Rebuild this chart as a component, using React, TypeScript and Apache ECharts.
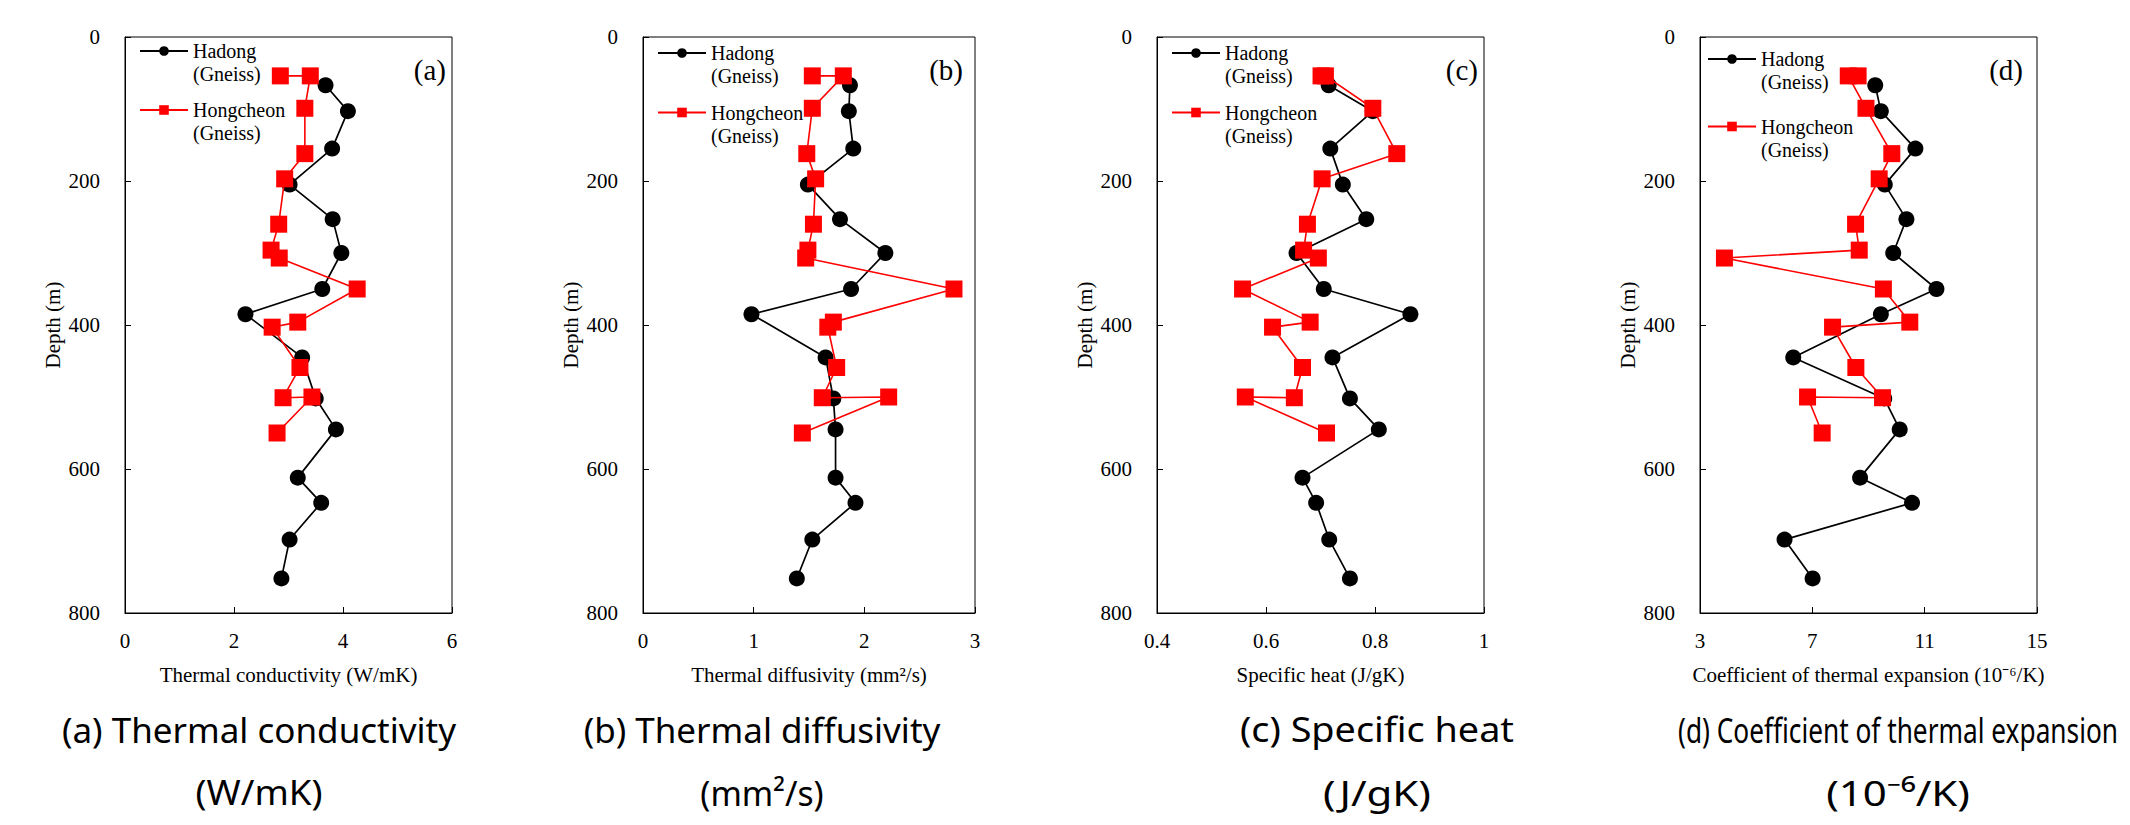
import React, { useEffect, useRef } from 'react';
import * as echarts from 'echarts';

// ---------- data ----------
const depthHadong = [67, 103, 155, 205, 253, 300, 350, 385, 445, 502, 545, 612, 647, 698, 752];
const depthHongcheon = [54, 54, 99, 162, 197, 260, 296, 307, 350, 396, 403, 459, 501, 500, 550];

const conductivityHadong = [3.68, 4.09, 3.8, 3.02, 3.81, 3.97, 3.62, 2.21, 3.25, 3.5, 3.87, 3.17, 3.6, 3.02, 2.87];
const conductivityHongcheon = [2.85, 3.4, 3.3, 3.3, 2.93, 2.82, 2.68, 2.83, 4.26, 3.17, 2.7, 3.21, 2.9, 3.43, 2.79];

const diffusivityHadong = [1.87, 1.86, 1.9, 1.49, 1.78, 2.19, 1.88, 0.98, 1.65, 1.72, 1.74, 1.74, 1.92, 1.53, 1.39];
const diffusivityHongcheon = [1.53, 1.81, 1.53, 1.48, 1.56, 1.54, 1.49, 1.47, 2.81, 1.72, 1.67, 1.75, 1.62, 2.22, 1.44];

const specificHeatHadong = [0.715, 0.796, 0.718, 0.741, 0.784, 0.656, 0.706, 0.865, 0.722, 0.754, 0.807, 0.667, 0.692, 0.716, 0.754];
const specificHeatHongcheon = [0.701, 0.709, 0.796, 0.84, 0.703, 0.676, 0.669, 0.696, 0.557, 0.681, 0.612, 0.667, 0.652, 0.562, 0.711];

const expansionHadong = [9.24, 9.44, 10.67, 9.58, 10.35, 9.88, 11.42, 9.44, 6.32, 9.56, 10.11, 8.7, 10.55, 6.01, 7.01];
const expansionHongcheon = [8.63, 8.28, 8.91, 9.83, 9.38, 8.54, 8.67, 3.87, 9.53, 10.47, 7.72, 8.55, 9.5, 6.83, 7.35];

const seriesNames = ['Hadong (Gneiss)', 'Hongcheon (Gneiss)'];
const hadongValues = [conductivityHadong, diffusivityHadong, specificHeatHadong, expansionHadong];
const hongcheonValues = [conductivityHongcheon, diffusivityHongcheon, specificHeatHongcheon, expansionHongcheon];

const xMins = [0, 0, 0.4, 3];
const xMaxs = [6, 3, 1, 15];
const xIntervals = [2, 1, 0.2, 4];
const depthMin = 0;
const depthMax = 800;
const depthInterval = 200;

const panelLetters = ['(a)', '(b)', '(c)', '(d)'];
const xAxisTitles = [
  'Thermal conductivity (W/mK)',
  'Thermal diffusivity (mm²/s)',
  'Specific heat (J/gK)',
  'Coefficient of thermal expansion (10⁻⁶/K)',
];
const yAxisTitle = 'Depth (m)';
const captionLine1 = [
  '(a) Thermal conductivity',
  '(b) Thermal diffusivity',
  '(c) Specific heat',
  '(d) Coefficient of thermal expansion',
];
const captionLine2 = ['(W/mK)', '(mm²/s)', '(J/gK)', '(10⁻⁶/K)'];

// ---------- layout ----------
const gridLeft = [125, 643, 1157, 1700];
const gridWidth = [327, 332, 327, 337];
const gridTop = 37;
const gridHeight = 576;
const legendLeft = [139, 657, 1171, 1707];
const legendIconY = [
  [51, 110],
  [53, 112.5],
  [53, 112.5],
  [59, 126.5],
];
const legendIconOffset = 34.5;
const letterRightGap = [6, 12, 6, 14];
const captionCenter = [259, 762, 1377, 1898];
const captionScaleX1 = [1, 1, 1.08, 0.75];
const captionScaleX2 = [1.05, 0.96, 1.2, 1.2];
const captionY1 = 729;
const captionY2 = 792;

const SERIF = '"Liberation Serif", "Times New Roman", serif';
const SANS = '"Noto Sans", "Open Sans", sans-serif';

function zip(xs: number[], ys: number[]) {
  return xs.map((x, i) => [x, ys[i]]);
}

function captionText(text: string, x: number, y: number, scaleX: number) {
  return {
    type: 'text',
    x,
    y,
    scaleX,
    style: {
      text,
      font: `35px ${SANS}`,
      fill: '#000',
      x: 0,
      y: 0,
      align: 'center',
      verticalAlign: 'middle',
      textAlign: 'center',
      textVerticalAlign: 'middle',
    },
  };
}

export default function App() {
  const ref = useRef<HTMLDivElement>(null);

  useEffect(() => {
    if (!ref.current) return;
    const chart = echarts.init(ref.current, undefined, { renderer: 'svg' });

    const grids: any[] = [];
    const xAxes: any[] = [];
    const yAxes: any[] = [];
    const series: any[] = [];
    const legends: any[] = [];
    const graphics: any[] = [];

    for (let i = 0; i < 4; i++) {
      grids.push({
        left: gridLeft[i],
        top: gridTop,
        width: gridWidth[i],
        height: gridHeight,
        show: true,
        borderColor: '#000',
        borderWidth: 1,
        backgroundColor: 'transparent',
      });
      xAxes.push({
        type: 'value',
        gridIndex: i,
        min: xMins[i],
        max: xMaxs[i],
        interval: xIntervals[i],
        name: xAxisTitles[i],
        nameLocation: 'middle',
        nameGap: 51,
        nameTextStyle: { fontFamily: SERIF, fontSize: 21, color: '#000' },
        axisLine: { show: true, onZero: false, lineStyle: { color: '#000', width: 1 } },
        axisTick: { show: true, inside: true, length: 6, lineStyle: { color: '#000', width: 1 } },
        axisLabel: { fontFamily: SERIF, fontSize: 21, color: '#000', margin: 17 },
        splitLine: { show: false },
      });
      yAxes.push({
        type: 'value',
        gridIndex: i,
        inverse: true,
        min: depthMin,
        max: depthMax,
        interval: depthInterval,
        name: yAxisTitle,
        nameLocation: 'middle',
        nameGap: 62,
        nameTextStyle: { fontFamily: SERIF, fontSize: 21, color: '#000' },
        axisLine: { show: true, onZero: false, lineStyle: { color: '#000', width: 1 } },
        axisTick: { show: true, inside: true, length: 6, lineStyle: { color: '#000', width: 1 } },
        axisLabel: { fontFamily: SERIF, fontSize: 21, color: '#000', margin: 25 },
        splitLine: { show: false },
      });
      series.push({
        type: 'line',
        name: seriesNames[0],
        xAxisIndex: i,
        yAxisIndex: i,
        data: zip(hadongValues[i], depthHadong),
        symbol: 'circle',
        symbolSize: 16,
        showAllSymbol: true,
        itemStyle: { color: '#000' },
        lineStyle: { color: '#000', width: 1.7 },
        z: 2,
      });
      series.push({
        type: 'line',
        name: seriesNames[1],
        xAxisIndex: i,
        yAxisIndex: i,
        data: zip(hongcheonValues[i], depthHongcheon),
        symbol: 'rect',
        symbolSize: 17,
        showAllSymbol: true,
        itemStyle: { color: '#ff0000' },
        lineStyle: { color: '#ff0000', width: 1.6 },
        z: 3,
      });
      for (let k = 0; k < 2; k++) {
        legends.push({
          data: [seriesNames[k]],
          orient: 'vertical',
          left: legendLeft[i],
          top: legendIconY[i][k] - legendIconOffset,
          padding: 0,
          itemWidth: 48,
          itemHeight: 12,
          selectedMode: false,
          formatter: (n: string) => '\n' + n.replace(' (', '\n('),
          textStyle: {
            fontFamily: SERIF,
            fontSize: 20,
            lineHeight: 23,
            color: '#000',
          },
        });
      }
      graphics.push({
        type: 'text',
        x: gridLeft[i] + gridWidth[i] - letterRightGap[i],
        y: 70,
        style: {
          text: panelLetters[i],
          font: `29px ${SERIF}`,
          fill: '#000',
          align: 'right',
          verticalAlign: 'middle',
          textAlign: 'right',
          textVerticalAlign: 'middle',
        },
      });
      graphics.push(captionText(captionLine1[i], captionCenter[i], captionY1, captionScaleX1[i]));
      graphics.push(captionText(captionLine2[i], captionCenter[i], captionY2, captionScaleX2[i]));
    }

    chart.setOption({
      animation: false,
      backgroundColor: '#fff',
      grid: grids,
      xAxis: xAxes,
      yAxis: yAxes,
      series,
      legend: legends,
      graphic: graphics,
    });

    return () => {
      chart.dispose();
    };
  }, []);

  return (
    <div
      ref={ref}
      style={{ position: 'fixed', left: 0, top: 0, width: 2130, height: 825 }}
    />
  );
}
